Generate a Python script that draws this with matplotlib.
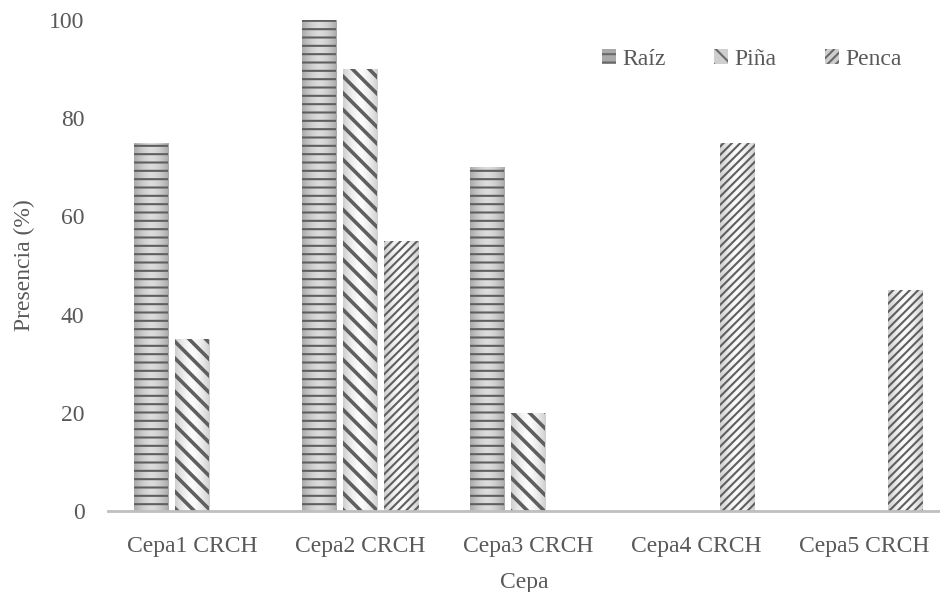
import numpy as np
import matplotlib.pyplot as plt
from matplotlib.colors import LinearSegmentedColormap
from matplotlib.patches import Patch

plt.rcParams['font.family'] = ['Liberation Serif', 'DejaVu Serif']
plt.rcParams['hatch.color'] = '#5f5f5f'

# ── Data ───────────────────────────────────────────────────
cepas = ['Cepa1 CRCH', 'Cepa2 CRCH', 'Cepa3 CRCH', 'Cepa4 CRCH', 'Cepa5 CRCH']
raiz  = [75, 100, 70, 0, 0]
pina  = [35, 90, 20, 0, 0]
penca = [0, 55, 0, 75, 45]

series   = [('Raíz', raiz), ('Piña', pina), ('Penca', penca)]
hatches  = ['--', '\\\\', '////']
hatch_lw = [1.5, 2.6, 1.5]
shade    = [('#a9a9a9', '#dcdcdc'), ('#cfcfcf', '#fbfbfb'), ('#cfcfcf', '#fbfbfb')]

TXT = '#595959'
FS = 17

fig = plt.figure(figsize=(9.4, 5.92), dpi=100)
ax = fig.add_axes([108/940, 1 - 511/592, 1 - 108/940, (511 - 20)/592])

x = np.arange(len(cepas))
w = 0.205
offs = [-0.245, 0, 0.245]

ax.set_ylim(0, 100)
ax.set_xlim(-0.5, 4.45)

# cylindrical shading across each bar
grad = np.abs(np.linspace(-1, 1, 64))[None, :] ** 1.6

for (name, vals), h, hlw, (c_edge, c_mid), o in zip(series, hatches, hatch_lw, shade, offs):
    v = np.array(vals, dtype=float)
    mask = v > 0
    cmap = LinearSegmentedColormap.from_list(name, [c_mid, c_edge])
    plt.rcParams['hatch.linewidth'] = hlw
    bars = ax.bar(x[mask] + o, v[mask], width=w, color=c_mid, hatch=h,
                  edgecolor='#5f5f5f', linewidth=0, label=name, zorder=3)
    for b in bars:
        if hasattr(b, 'set_hatch_linewidth'):
            b.set_hatch_linewidth(hlw)
        b.set_facecolor('none')
        im = ax.imshow(grad, cmap=cmap, aspect='auto', vmin=0, vmax=1,
                       extent=(b.get_x(), b.get_x() + b.get_width(), 0, b.get_height()),
                       zorder=2, interpolation='bilinear')
        im.set_clip_path(b)

ax.set_ylim(0, 100)
ax.set_xlim(-0.5, 4.45)
ax.set_yticks(range(0, 101, 20))
ax.set_xticks(x)
ax.set_xticklabels(cepas)
ax.tick_params(axis='both', length=0, labelsize=FS, colors=TXT)
ax.tick_params(axis='y', pad=17)
ax.tick_params(axis='x', pad=18)

for s in ['top', 'right', 'left']:
    ax.spines[s].set_visible(False)
ax.spines['bottom'].set_color('#bfbfbf')
ax.spines['bottom'].set_linewidth(2)
ax.spines['bottom'].set_zorder(4)

ax.set_ylabel('Presencia (%)', fontsize=FS, color=TXT, labelpad=10)
ax.set_xlabel('Cepa', fontsize=FS, color=TXT, labelpad=11)

plt.rcParams['hatch.linewidth'] = 1.5
handles = []
for (name, _), h, (c_edge, c_mid) in zip(series, hatches, shade):
    handles.append(Patch(facecolor=c_edge, hatch=h, edgecolor='#6a6a6a',
                         linewidth=0, label=name))
leg = ax.legend(handles=handles, loc='upper right', bbox_to_anchor=(0.979, 0.984),
                ncol=3, frameon=False, fontsize=FS, handlelength=0.6,
                handleheight=0.6, handletextpad=0.25, columnspacing=2.06)
for t in leg.get_texts():
    t.set_color(TXT)

fig.savefig('out.png', dpi=100)
